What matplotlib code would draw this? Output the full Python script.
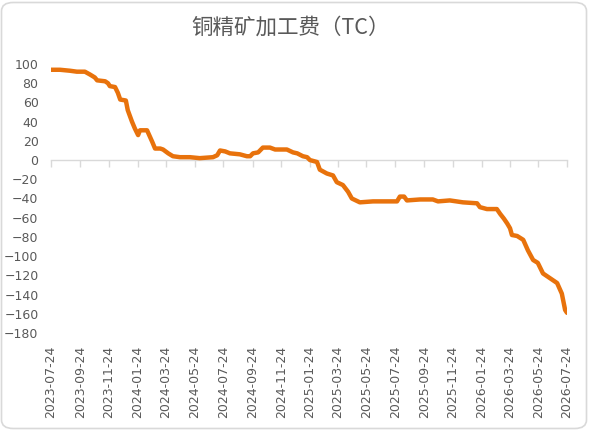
import matplotlib
matplotlib.use("Agg")
import matplotlib.pyplot as plt
from matplotlib.patches import FancyBboxPatch
import pandas as pd

title = "铜精矿加工费（TC）"
dates = [
    "2023-07-24", "2023-08-12", "2023-09-02", "2023-09-17", "2023-10-04", "2023-10-15",
    "2023-10-25", "2023-10-30", "2023-11-16", "2023-11-22", "2023-11-26", "2023-12-07",
    "2023-12-13", "2023-12-18", "2023-12-30", "2024-01-03", "2024-01-12", "2024-01-18",
    "2024-01-23", "2024-01-25", "2024-01-29", "2024-02-13", "2024-02-24", "2024-03-01",
    "2024-03-12", "2024-03-18", "2024-03-29", "2024-04-08", "2024-04-23", "2024-05-14",
    "2024-06-04", "2024-07-02", "2024-07-11", "2024-07-17", "2024-07-28", "2024-08-07",
    "2024-08-28", "2024-09-12", "2024-09-19", "2024-09-25", "2024-10-06", "2024-10-16",
    "2024-10-31", "2024-11-11", "2024-12-06", "2024-12-19", "2024-12-28", "2025-01-09",
    "2025-01-18", "2025-01-24", "2025-02-08", "2025-02-14", "2025-03-01", "2025-03-14",
    "2025-03-22", "2025-04-04", "2025-04-15", "2025-04-23", "2025-05-10", "2025-06-07",
    "2025-07-28", "2025-08-03", "2025-08-12", "2025-08-18", "2025-09-15", "2025-10-12",
    "2025-10-23", "2025-11-17", "2025-12-15", "2026-01-14", "2026-01-20", "2026-02-04",
    "2026-02-25", "2026-03-04", "2026-03-12", "2026-03-19", "2026-03-25", "2026-03-29",
    "2026-04-09", "2026-04-22", "2026-05-02", "2026-05-13", "2026-05-23", "2026-06-03",
    "2026-06-18", "2026-07-03", "2026-07-13", "2026-07-20", "2026-07-24",
]
tc_values = [
    94, 94, 93, 92, 92, 89,
    86, 83, 82, 80, 77, 76,
    70, 63, 62, 52, 40, 33,
    28, 26, 31, 31, 19, 12,
    12, 11, 7, 4, 3, 3,
    2, 3, 5, 10, 9, 7,
    6, 4, 4, 7, 8, 13,
    13, 11, 11, 8, 7, 4,
    3, 0, -2, -10, -14, -16,
    -23, -26, -33, -40, -44, -43,
    -43, -38, -38, -42, -41, -41,
    -43, -42, -44, -45, -49, -51,
    -51, -56, -61, -66, -71, -78,
    -79, -83, -94, -104, -107, -118,
    -123, -128, -139, -156, -159,
]
tick_dates = ["2023-07-24", "2023-09-24", "2023-11-24", "2024-01-24", "2024-03-24",
              "2024-05-24", "2024-07-24", "2024-09-24", "2024-11-24", "2025-01-24",
              "2025-03-24", "2025-05-24", "2025-07-24", "2025-09-24", "2025-11-24",
              "2026-01-24", "2026-03-24", "2026-05-24", "2026-07-24"]
y_ticks = list(range(-180, 101, 20))

plt.rcParams['font.family'] = ['DejaVu Sans']
W, H = 589, 430
fig = plt.figure(figsize=(W / 100, H / 100), dpi=100)
fig.patch.set_facecolor("white")

border = FancyBboxPatch((1.5 / W, 1.5 / H), (W - 4) / W, (H - 4) / H,
                        boxstyle="round,pad=0,rounding_size=0.02",
                        transform=fig.transFigure, facecolor="none",
                        edgecolor="#d9d9d9", linewidth=1.2, zorder=-1)
fig.patches.append(border)

left, right, top, bottom = 51, 567, 64, 333
ax = fig.add_axes([left / W, (H - bottom) / H, (right - left) / W, (bottom - top) / H])
ax.set_facecolor("none")

x = pd.to_datetime(dates)
ax.plot(x, tc_values, color="#E8720C", linewidth=3.2, solid_joinstyle="round",
        solid_capstyle="round", zorder=3)

ax.set_ylim(-180, 100)
ax.set_yticks(y_ticks)
ax.set_xlim(pd.Timestamp(tick_dates[0]), pd.Timestamp(tick_dates[-1]))
ticks = pd.to_datetime(tick_dates)
ax.set_xticks(ticks)

for s in ["top", "right", "left"]:
    ax.spines[s].set_visible(False)
ax.spines["bottom"].set_position(("data", 0))
ax.spines["bottom"].set_color("#d9d9d9")
ax.spines["bottom"].set_linewidth(1.0)
ax.tick_params(axis="x", direction="out", length=5, width=1.0, color="#d9d9d9",
               labelbottom=False)
ax.tick_params(axis="y", length=0, pad=9, labelsize=9, labelcolor="#595959")

sec = ax.secondary_xaxis("bottom")
sec.set_xticks(ticks)
sec.set_xticklabels(tick_dates, rotation=90, fontsize=9, color="#595959")
sec.tick_params(length=0, pad=9)
sec.spines["bottom"].set_visible(False)

fig.text(291 / W, 1 - 28 / H, title, ha="center", va="center", fontsize=15.5,
         color="#595959", family=["Noto Sans CJK SC", "DejaVu Sans"])

fig.savefig("out.png", dpi=100)
